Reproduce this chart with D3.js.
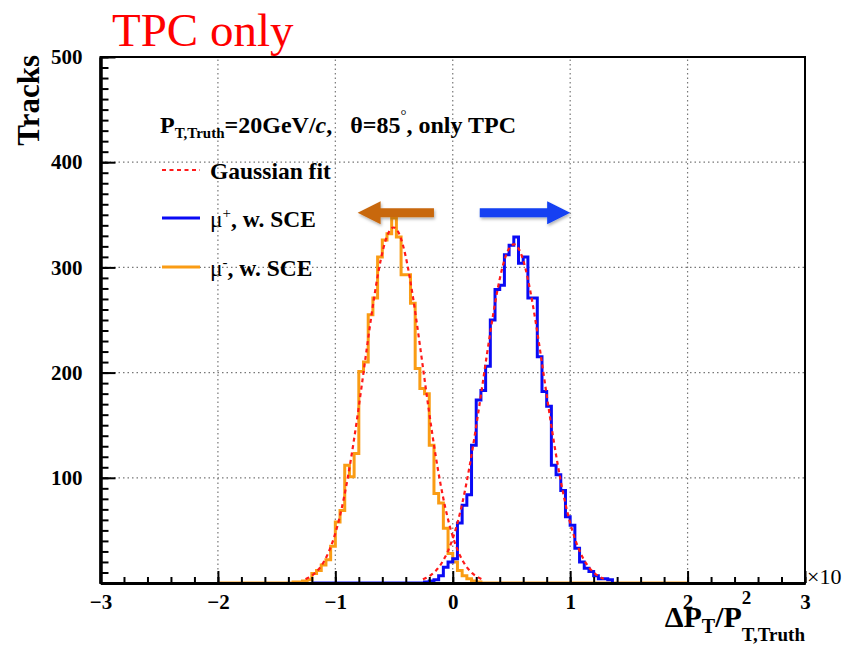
<!DOCTYPE html>
<html>
<head>
<meta charset="utf-8">
<script src="https://cdn.jsdelivr.net/npm/d3@7"></script>
<style>
  html, body { margin: 0; padding: 0; background: #fff; }
  svg { display: block; }
  text { font-family: "Liberation Serif", "Times New Roman", serif; white-space: pre; }
</style>
</head>
<body>
<svg id="chart" width="844" height="645"></svg>
<script>
// ---------------- DATA ----------------
const binWidth = 0.04;
// mu- histogram (orange): drawn range and non-zero bins starting at muMinusStart
const muMinusRange = [-2.0, 2.0];
const muMinusStart = -1.36;
const muMinusCounts = [1, 1, 2, 3, 9, 12, 17, 22, 35, 58, 69, 112, 101, 123, 201, 210, 255, 271, 310, 326,
  332, 347, 329, 293, 293, 266, 204, 185, 180, 131, 85, 76, 52, 28, 20, 12, 7, 4, 2, 1];
// mu+ histogram (blue)
const muPlusRange = [-1.2, 1.36];
const muPlusStart = -0.24;
const muPlusCounts = [1, 2, 3, 7, 15, 20, 23, 57, 74, 84, 131, 174, 183, 206, 250, 279, 283, 312, 321, 329,
  304, 310, 271, 271, 215, 182, 168, 112, 103, 88, 63, 55, 33, 20, 14, 11, 7, 4, 4, 3];
// Gaussian fit parameters [amplitude, mean, sigma]
const fitMuMinus = [338, -0.504, 0.250];
const fitMuPlus = [322, 0.520, 0.258];

const xTicks = [-3, -2, -1, 0, 1, 2, 3];
const yTicks = [100, 200, 300, 400, 500];
const xGrid = [-2, -1, 0, 1, 2];
const yGrid = [100, 200, 300, 400];
const legendLabels = ["Gaussian fit", "μ", "μ"];
// annotation arrows [x0, x1, y] in data units
const arrowMinus = [-0.16, -0.81, 352];
const arrowPlus = [0.23, 1.0, 352];

// ---------------- LAYOUT ----------------
const svg = d3.select("#chart");
const x = d3.scaleLinear().domain([-3, 3]).range([100.5, 805]);
const y = d3.scaleLinear().domain([0, 500]).range([583, 57]);

const C_ORANGE = "#fa9c14", C_BLUE = "#0a0af5", C_RED = "#ff1a1a";

// grid
const grid = svg.append("g");
grid.selectAll(".gx").data(xGrid).join("line")
  .attr("x1", d => x(d)).attr("x2", d => x(d)).attr("y1", y(0)).attr("y2", y(500))
  .attr("stroke", "#777").attr("stroke-width", 1.2).attr("stroke-dasharray", "1.5,3");
grid.selectAll(".gy").data(yGrid).join("line")
  .attr("x1", x(-3)).attr("x2", x(3)).attr("y1", d => y(d)).attr("y2", d => y(d))
  .attr("stroke", "#777").attr("stroke-width", 1.2).attr("stroke-dasharray", "1.5,3");

// histogram path builder
function histPath(range, start, counts) {
  const nb = Math.round((range[1] - range[0]) / binWidth);
  const pts = [[range[0], 0]];
  for (let i = 0; i < nb; i++) {
    const e0 = range[0] + i * binWidth, e1 = e0 + binWidth;
    const j = Math.round((e0 - start) / binWidth);
    const v = (j >= 0 && j < counts.length) ? counts[j] : 0;
    pts.push([e0, v], [e1, v]);
  }
  pts.push([range[1], 0]);
  return d3.line().x(d => x(d[0])).y(d => y(d[1]))(pts);
}
svg.append("path").attr("d", histPath(muMinusRange, muMinusStart, muMinusCounts))
  .attr("fill", "none").attr("stroke", C_ORANGE).attr("stroke-width", 3).attr("stroke-linejoin", "miter");
svg.append("path").attr("d", histPath(muPlusRange, muPlusStart, muPlusCounts))
  .attr("fill", "none").attr("stroke", C_BLUE).attr("stroke-width", 3).attr("stroke-linejoin", "miter");

// gaussian fits (drawn over mean +- 3 sigma)
function fitPath(p) {
  const [a, m, s] = p;
  const xs = d3.range(m - 3 * s, m + 3 * s + 1e-9, 0.01);
  return d3.line().curve(d3.curveBasis).x(d => x(d)).y(d => y(a * Math.exp(-0.5 * ((d - m) / s) ** 2)))(xs);
}
[fitMuMinus, fitMuPlus].forEach(p => {
  svg.append("path").attr("d", fitPath(p)).attr("fill", "none")
    .attr("stroke", C_RED).attr("stroke-width", 2.2).attr("stroke-dasharray", "4,3.5");
});

// frame
svg.append("rect").attr("x", x(-3)).attr("y", y(500)).attr("width", x(3) - x(-3)).attr("height", y(0) - y(500))
  .attr("fill", "none").attr("stroke", "#000").attr("stroke-width", 2);

// axes
const fmt = d3.format("d");
const xAxisG = svg.append("g").attr("transform", `translate(0,${y(0)})`);
xAxisG.call(d3.axisBottom(x).tickValues(xTicks).tickFormat(fmt).tickSizeInner(-12).tickSizeOuter(0).tickPadding(11));
svg.append("g").attr("transform", `translate(0,${y(0)})`)
  .call(d3.axisBottom(x).tickValues(d3.range(-3, 3.001, 0.2)).tickFormat("").tickSizeInner(-6).tickSizeOuter(0));
const yAxisG = svg.append("g").attr("transform", `translate(${x(-3)},0)`);
yAxisG.call(d3.axisLeft(y).tickValues(yTicks).tickFormat(fmt).tickSizeInner(-15).tickSizeOuter(0).tickPadding(18));
svg.append("g").attr("transform", `translate(${x(-3)},0)`)
  .call(d3.axisLeft(y).tickValues(d3.range(0, 500.1, 10)).tickFormat("").tickSizeInner(-8).tickSizeOuter(0));
svg.selectAll(".domain").attr("stroke", "#000").attr("stroke-width", 3);
svg.selectAll(".tick line").attr("stroke", "#000").attr("stroke-width", 2);
svg.selectAll(".tick text").attr("font-family", "Liberation Serif, serif").attr("font-weight", "bold")
  .attr("font-size", 21).attr("fill", "#000");

// axis titles
svg.append("text").attr("transform", `translate(39,55) rotate(-90)`).attr("text-anchor", "end")
  .attr("font-weight", "bold").attr("font-size", 31).text("Tracks");

svg.append("text").attr("x", 807).attr("y", 584).attr("font-size", 22).text("×10");

// x title: ΔP_T / P^2_{T,Truth}
const sub = svg.append("text").attr("x", 805).attr("y", 641).attr("text-anchor", "end")
  .attr("font-weight", "bold").attr("font-size", 19).text("T,Truth");
const subW = sub.node().getComputedTextLength();
svg.append("text").attr("x", 805 - subW).attr("y", 604).attr("font-weight", "bold").attr("font-size", 19).text("2");
const main = svg.append("text").attr("x", 805 - subW).attr("y", 627).attr("text-anchor", "end")
  .attr("font-weight", "bold").attr("font-size", 30);
main.append("tspan").text("ΔP");
main.append("tspan").attr("font-size", 20).attr("dy", 6).text("T");
main.append("tspan").attr("dy", -6).text("/P");

// Title
svg.append("text").attr("x", 112).attr("y", 46).attr("fill", "#ff0000").attr("font-size", 47).text("TPC only");

// header
const hdr = svg.append("text").attr("x", 160).attr("y", 133).attr("font-weight", "bold").attr("font-size", 24);
hdr.append("tspan").text("P");
hdr.append("tspan").attr("font-size", 15).attr("dy", 5).text("T,Truth");
hdr.append("tspan").attr("dy", -5).text("=20GeV/");
hdr.append("tspan").attr("font-style", "italic").text("c");
hdr.append("tspan").text(",\u00a0\u00a0\u00a0θ=85");
hdr.append("tspan").attr("font-size", 15).attr("dy", -13).attr("font-weight", "normal").text("°");
hdr.append("tspan").attr("dy", 13).text(", only TPC");

// legend
const legY = [170, 218, 267];
const legStyle = [{c: C_RED, dash: "4,3.5", w: 2.2}, {c: C_BLUE, dash: null, w: 3}, {c: C_ORANGE, dash: null, w: 3}];
legY.forEach((ly, i) => {
  svg.append("line").attr("x1", 162).attr("x2", 200).attr("y1", ly).attr("y2", ly)
    .attr("stroke", legStyle[i].c).attr("stroke-width", legStyle[i].w)
    .attr("stroke-dasharray", legStyle[i].dash);
  const t = svg.append("text").attr("x", 210).attr("y", ly + 9).attr("font-weight", "bold").attr("font-size", 23.5);
  if (i === 0) t.text(legendLabels[0]);
  else {
    t.append("tspan").attr("font-weight", "normal").text(legendLabels[i]);
    t.append("tspan").attr("font-size", 15).attr("dy", -9).attr("font-weight", "normal").text(i === 1 ? "+" : "-");
    t.append("tspan").attr("dy", 9).text(", w. SCE");
  }
});

// arrows
const defs = svg.append("defs");
const f = defs.append("filter").attr("id", "shadow").attr("x", "-20%").attr("y", "-50%").attr("width", "140%").attr("height", "200%");
f.append("feDropShadow").attr("dx", 1).attr("dy", 2).attr("stdDeviation", 1.5).attr("flood-opacity", 0.3);
function arrow(a, color) {
  const x0 = x(a[0]), x1 = x(a[1]), yy = y(a[2]);
  const dir = Math.sign(x1 - x0), head = 23, hh = 11.5, sh = 4.5;
  const xb = x1 - dir * head;
  const pts = [[x0, yy - sh], [xb, yy - sh], [xb, yy - hh], [x1, yy], [xb, yy + hh], [xb, yy + sh], [x0, yy + sh]];
  svg.append("path").attr("d", d3.line()(pts) + "Z").attr("fill", color).attr("filter", "url(#shadow)");
}
arrow(arrowMinus, "#c8680e");
arrow(arrowPlus, "#1240f2");
</script>
</body>
</html>
